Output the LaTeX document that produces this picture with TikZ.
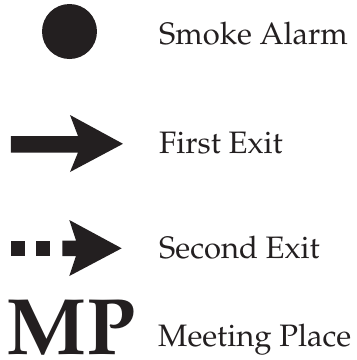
\documentclass[tikz,border=0pt]{standalone}
\usepackage[T1]{fontenc}
\usepackage{mathpazo}
\definecolor{ink}{HTML}{231F20}
\tikzstyle{symbol} = [
    fill=ink,
    draw=none
]
\tikzstyle{label} = [
    anchor=base west,
    inner sep=0pt,
    text=ink,
    font=\fontsize{31}{31}\selectfont
]
\tikzstyle{bigmark} = [
    anchor=base west,
    inner sep=0pt,
    text=ink,
    font=\fontsize{80}{80}\selectfont\bfseries
]

\begin{document}
\begin{tikzpicture}[x=1pt, y=-1pt]
\useasboundingbox (0,0) rectangle (357,360);

% smoke alarm
\node (alarm) [symbol, circle, minimum size=55pt, inner sep=0pt] at (69.5,31.5) {};
\node (alarmtext) [label] at (159,44) {Smoke Alarm};

% first exit
\fill [symbol] (11,136) -- (78,136) -- (70,115) -- (123,143.8)
    -- (70,172) -- (78,152.5) -- (11,152.5) -- cycle;
\node (firsttext) [label] at (159,153) {First Exit};

% second exit
\fill [symbol] (11,240.5) rectangle (25,256);
\fill [symbol] (36,240.5) rectangle (50,256);
\fill [symbol] (62.5,240.5) -- (76,240.5) -- (69.3,220) -- (121.7,248.3)
    -- (69.3,276) -- (76,256) -- (62.5,256) -- cycle;
\node (secondtext) [label] at (159,258.3) {Second Exit};

% meeting place
\node (mp) [bigmark] at (6,354) {MP};
\node (mptext) [label] at (158,346.7) {Meeting Place};

\end{tikzpicture}
\end{document}
